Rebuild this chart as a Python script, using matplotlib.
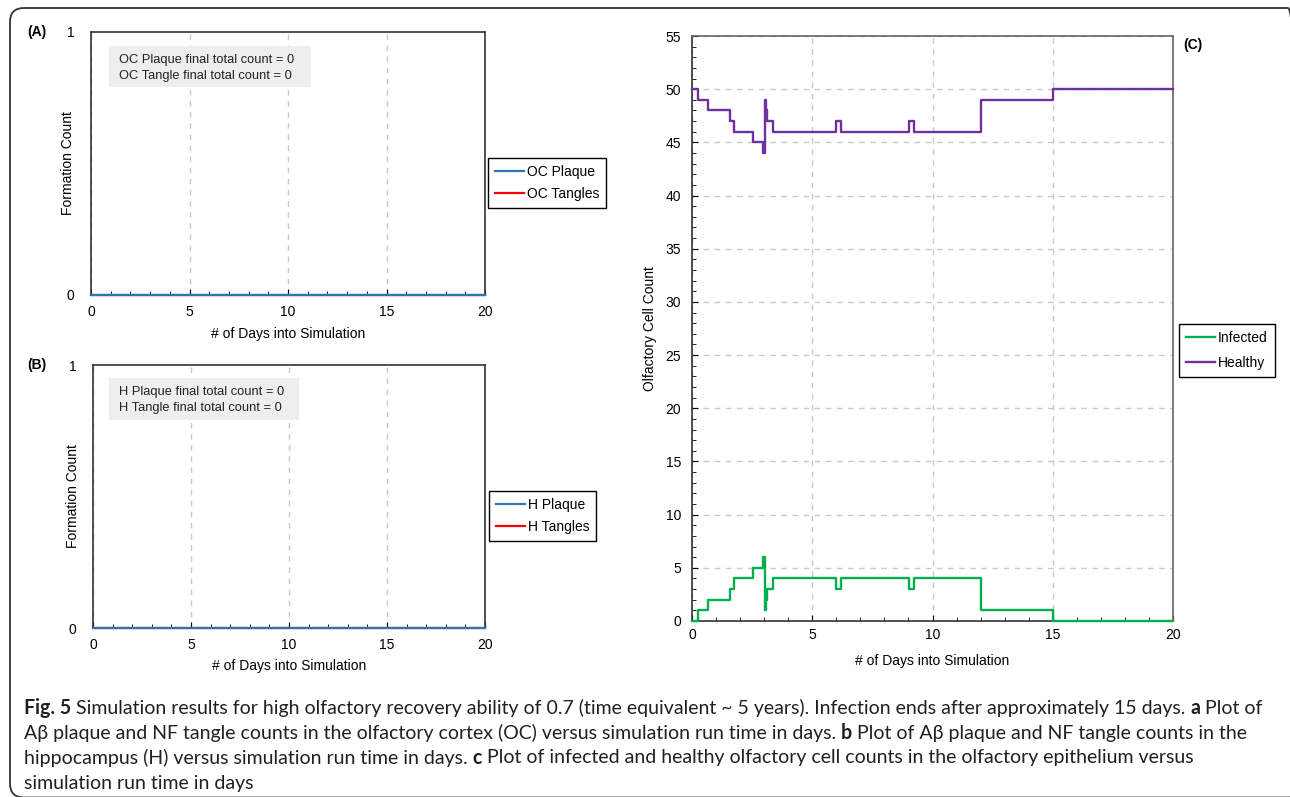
import matplotlib
matplotlib.use("Agg")
import matplotlib.pyplot as plt
from matplotlib.patches import FancyBboxPatch, Rectangle
from matplotlib.ticker import MultipleLocator

W, H = 1290, 797

# panels A and B: no plaques or tangles formed
days_ab = [0, 20]
oc_plaque = [0, 0]
oc_tangles = [0, 0]
h_plaque = [0, 0]
h_tangles = [0, 0]

# panel C: olfactory cell counts (step changes)
days_c = [0, 0.26, 0.65, 1.58, 1.75, 2.52, 2.97, 3.03, 3.08, 3.13, 3.38,
          6.0, 6.18, 9.02, 9.23, 12.0, 15.0, 20.0]
healthy = [50, 49, 48, 47, 46, 45, 44, 49, 48, 47, 46, 47, 46, 47, 46, 49, 50, 50]
infected = [0, 1, 2, 3, 4, 5, 6, 1, 2, 3, 4, 3, 4, 3, 4, 1, 0, 0]

BLUE = '#2e75b6'
RED = '#ff0000'
GREEN = '#00b050'
PURPLE = '#7030a0'
GRID = '#c8c8c8'

plt.rcParams['font.family'] = ['Liberation Sans', 'DejaVu Sans']
plt.rcParams['font.size'] = 10

fig = plt.figure(figsize=(W / 100, H / 100), dpi=100)


def px_axes(left, top, right, bottom):
    return fig.add_axes([left / W, 1 - bottom / H, (right - left) / W, (bottom - top) / H])


def style_axes(ax):
    ax.set_xlim(0, 20)
    ax.xaxis.set_major_locator(MultipleLocator(5))
    ax.xaxis.set_minor_locator(MultipleLocator(1))
    ax.tick_params(which='both', direction='in', colors='black', labelsize=10)
    ax.tick_params(which='major', length=4)
    ax.tick_params(which='minor', length=3)
    for s in ax.spines.values():
        s.set_linewidth(1.2)
        s.set_color('#333333')
    ax.set_xlabel('# of Days into Simulation', fontsize=10)


def count_panel(box, plaque, tangles, names, tag, notes, note_box, leg_pos, ylab_x, xlab_off):
    left, top, right, bottom = box
    ax = px_axes(left, top, right, bottom)
    style_axes(ax)
    lt, = ax.plot(days_ab, tangles, color=RED, lw=1.6, zorder=3, clip_on=False)
    lp, = ax.plot(days_ab, plaque, color=BLUE, lw=1.6, zorder=4, clip_on=False)
    ax.set_ylim(0, 1)
    ax.set_yticks([0, 1])
    ax.yaxis.set_minor_locator(plt.NullLocator())
    ax.tick_params(axis='y', length=0, pad=12)
    ax.tick_params(axis='x', which='major', pad=7)
    ax.grid(axis='x', which='major', color=GRID, ls=(0, (4, 4)), lw=1)
    ax.set_ylabel('Formation Count', fontsize=10)
    ax.yaxis.set_label_coords((ylab_x - left) / (right - left), 0.5)
    ax.xaxis.set_label_coords(0.5, -xlab_off / (bottom - top))
    # note box
    bx0, by0, bx1, by1 = note_box
    ax.add_patch(Rectangle(((bx0 - left) / (right - left), (bottom - by1) / (bottom - top)),
                           (bx1 - bx0) / (right - left), (by1 - by0) / (bottom - top),
                           transform=ax.transAxes, facecolor='#eeeeee', edgecolor='none', zorder=5))
    for i, s in enumerate(notes):
        yy = by0 + 14 + 16 * i
        ax.text((bx0 + 10 - left) / (right - left), (bottom - yy) / (bottom - top), s,
                transform=ax.transAxes, fontsize=9.3, va='center', ha='left', zorder=6,
                color='#222222')
    fig.legend([lp, lt], names, loc='upper left',
               bbox_to_anchor=(leg_pos[0] / W, 1 - leg_pos[1] / H), borderaxespad=0,
               fancybox=False, edgecolor='black', framealpha=1, fontsize=10,
               handlelength=2.1, handletextpad=0.2, labelspacing=0.6, borderpad=0.5)
    fig.text(27 / W, 1 - top / H, tag, fontsize=10, fontweight='bold', va='center', ha='left')
    return ax


count_panel((91, 32, 485, 295), oc_plaque, oc_tangles, ['OC Plaque', 'OC Tangles'], '(A)',
            ['OC Plaque final total count = 0', 'OC Tangle final total count = 0'],
            (109, 46, 311, 87), (488, 158), 75, 32)
count_panel((93, 365, 485, 628), h_plaque, h_tangles, ['H Plaque', 'H Tangles'], '(B)',
            ['H Plaque final total count = 0', 'H Tangle final total count = 0'],
            (109, 378, 299, 420), (489, 491), 80, 31)

# panel C
cl, ct, cr, cb = 692, 36, 1173, 621
axc = px_axes(cl, ct, cr, cb)
style_axes(axc)
axc.set_ylim(0, 55)
axc.yaxis.set_major_locator(MultipleLocator(5))
axc.yaxis.set_minor_locator(MultipleLocator(1))
axc.tick_params(axis='y', which='major', pad=8)
axc.tick_params(axis='x', which='major', pad=5)
axc.grid(which='major', color=GRID, ls=(0, (4, 4)), lw=1)
axc.spines['top'].set_color('#666666')
axc.spines['right'].set_color('#666666')
li, = axc.step(days_c, infected, where='post', color=GREEN, lw=1.7, clip_on=False, zorder=4)
lh, = axc.step(days_c, healthy, where='post', color=PURPLE, lw=1.7, clip_on=False, zorder=4)
axc.set_ylabel('Olfactory Cell Count', fontsize=10)
axc.yaxis.set_label_coords((657 - cl) / (cr - cl), 0.5)
axc.xaxis.set_label_coords(0.5, -33 / (cb - ct))
fig.legend([li, lh], ['Infected', 'Healthy'], loc='upper left',
           bbox_to_anchor=(1179 / W, 1 - 324 / H), borderaxespad=0,
           fancybox=False, edgecolor='black', framealpha=1, fontsize=10,
           handlelength=2.1, handletextpad=0.2, labelspacing=0.8, borderpad=0.5)
fig.text(1183 / W, 1 - 45 / H, '(C)', fontsize=10, fontweight='bold', va='center', ha='left')

# outer rounded frame (runs past the right and bottom edges)
fig.patches.append(FancyBboxPatch((10, H - 797.5), 1292, 789.5, boxstyle='round,pad=0,rounding_size=14',
                                  transform=None, facecolor='none', edgecolor='#333333', lw=1.3))

# caption with bold runs
caption = [
    [('Fig. 5', 'bold'),
     (' Simulation results for high olfactory recovery ability of 0.7 (time equivalent ~ 5 years). '
      'Infection ends after approximately 15 days. ', 'normal'), ('a', 'bold'), (' Plot of', 'normal')],
    [('A\u03b2 plaque and NF tangle counts in the olfactory cortex (OC) versus simulation run time in days. ',
      'normal'), ('b', 'bold'), (' Plot of A\u03b2 plaque and NF tangle counts in the', 'normal')],
    [('hippocampus (H) versus simulation run time in days. ', 'normal'), ('c', 'bold'),
     (' Plot of infected and healthy olfactory cell counts in the olfactory epithelium versus', 'normal')],
    [('simulation run time in days', 'normal')],
]
cap_family = ['Lato', 'DejaVu Sans']
renderer = fig.canvas.get_renderer()


def run_width(s, weight, size):
    t1 = fig.text(0, 0, s + 'l', fontsize=size, family=cap_family, fontweight=weight)
    t2 = fig.text(0, 0, 'l', fontsize=size, family=cap_family, fontweight=weight)
    w = t1.get_window_extent(renderer).width - t2.get_window_extent(renderer).width
    t1.remove()
    t2.remove()
    return w


base = 13
first = sum(run_width(s, wt, base) for s, wt in caption[0])
cap_size = base * 1239 / first
for i, line in enumerate(caption):
    x = 24
    y = 708 + 25 * i
    for s, wt in line:
        fig.text(x / W, 1 - y / H, s, fontsize=cap_size, family=cap_family, fontweight=wt,
                 va='center', ha='left', color='#231f20')
        x += run_width(s, wt, cap_size)

fig.savefig('out.png', dpi=100)
